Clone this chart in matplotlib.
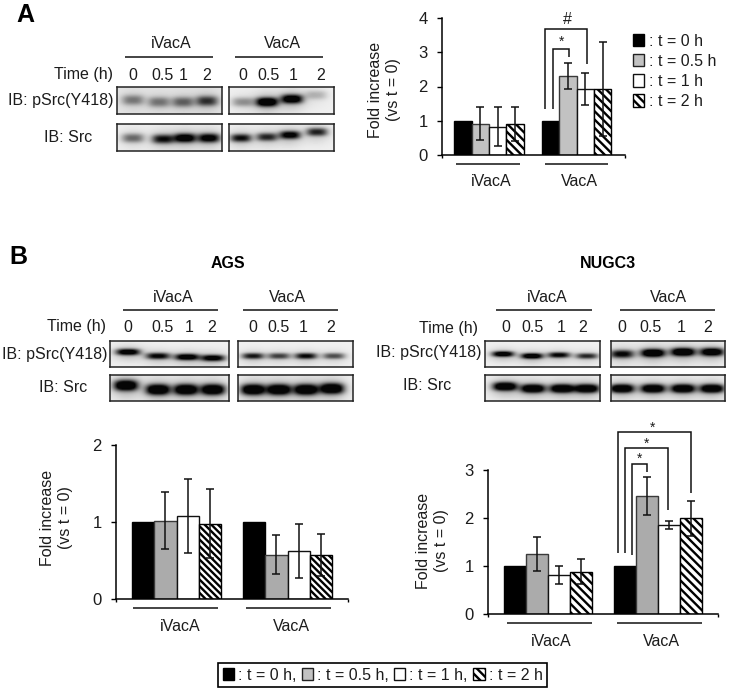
import numpy as np
import matplotlib
matplotlib.use("Agg")
import matplotlib.pyplot as plt
from matplotlib.patches import Patch

plt.rcParams['font.family'] = ['Liberation Sans', 'DejaVu Sans']
plt.rcParams['hatch.linewidth'] = 1.7
W, H = 740, 690
FS = 11.5
TXT = '#1c1c1c'

# ---------- data ----------
groups = ['iVacA', 'VacA']
times = [': t = 0 h', ': t = 0.5 h', ': t = 1 h', ': t = 2 h']
time_ticks_a = ['0', '0.5', '1', '2']

a_mean = [[1, 0.90, 0.82, 0.90], [1, 2.32, 1.92, 1.93]]
a_lo = [[1, 0.43, 0.26, 0.40], [1, 1.93, 1.45, 0.55]]
a_hi = [[1, 1.40, 1.40, 1.41], [1, 2.70, 2.40, 3.30]]

ags_mean = [[1, 1.02, 1.08, 0.98], [1, 0.58, 0.62, 0.575]]
ags_lo = [[1, 0.655, 0.605, 0.53], [1, 0.33, 0.276, 0.307]]
ags_hi = [[1, 1.39, 1.555, 1.425], [1, 0.834, 0.976, 0.84]]

nu_mean = [[1, 1.26, 0.81, 0.887], [1, 2.46, 1.857, 2.0]]
nu_lo = [[1, 0.90, 0.62, 0.62], [1, 2.07, 1.77, 1.635]]
nu_hi = [[1, 1.615, 1.01, 1.14], [1, 2.85, 1.95, 2.36]]

# band x, band y (image pixels), darkness
a_p_i = ([133, 159, 183, 207], [100, 102, 102, 101], [.33, .34, .40, .55])
a_p_v = ([243, 267, 292, 316], [102, 102, 99, 95], [.28, .95, .88, .18])
a_s_i = ([133, 163, 185, 209], [138, 139, 138, 138], [.40, .68, .85, .80])
a_s_v = ([241, 267, 290, 317], [138, 137, 135, 132], [.68, .60, .78, .62])

g_p_i = ([128, 158, 187, 213], [352, 356, 357, 358], [.85, .72, .85, .80])
g_p_v = ([253, 279, 306, 334], [356, 356, 356, 356], [.65, .52, .70, .48])
g_s_i = ([126, 158, 186, 213], [386, 390, 390, 390], [1.0, 1.0, 1.0, 1.0])
g_s_v = ([253, 279, 306, 332], [390, 390, 390, 389], [1.0, 1.0, 1.0, 1.0])

n_p_i = ([503, 532, 559, 587], [354, 356, 355, 356], [.85, .88, .72, .60])
n_p_v = ([622, 653, 683, 712], [354, 353, 352, 352], [.72, 1.0, 1.0, .92])
n_s_i = ([505, 533, 562, 587], [387, 389, 389, 389], [1.0, 1.0, 1.0, 1.0])
n_s_v = ([622, 653, 683, 712], [389, 389, 389, 389], [1.0, 1.0, 1.0, 1.0])

fig = plt.figure(figsize=(W / 100, H / 100), dpi=100, facecolor='white')


def rect(x0, y0, x1, y1):
    return [x0 / W, 1 - y1 / H, (x1 - x0) / W, (y1 - y0) / H]


ov = fig.add_axes([0, 0, 1, 1], zorder=5)
ov.set_xlim(0, W)
ov.set_ylim(H, 0)
ov.axis('off')


def T(x, y, s, ha='center', **kw):
    kw.setdefault('fontsize', FS)
    kw.setdefault('color', TXT)
    ov.text(x, y, s, ha=ha, va='center', **kw)


def L(xs, ys, lw=1.1, color='#111111'):
    ov.plot(xs, ys, color=color, lw=lw, solid_capstyle='butt', solid_joinstyle='miter')


def blot(box, band, bw, bh, bg=.94):
    x0, y0, x1, y1 = box
    n, m = x1 - x0, y1 - y0
    xx, yy = np.meshgrid(np.arange(n) + x0 + .5, np.arange(m) + y0 + .5)
    dark = np.zeros_like(xx, dtype=float)
    for bx, by, d in zip(*band):
        core = np.exp(-np.abs((xx - bx) / bw) ** 3 - np.abs((yy - by) / bh) ** 2.4)
        haze = np.exp(-((xx - bx) / (bw * 1.25)) ** 2 - ((yy - by - 1) / (bh * 2.4)) ** 2)
        dark += d * 1.1 * core + d * .24 * haze
    img = np.clip(bg - dark, 0.02, 1)
    ax = fig.add_axes(rect(x0, y0, x1, y1), zorder=2)
    ax.imshow(img, cmap='gray', vmin=0, vmax=1, aspect='auto', interpolation='bilinear')
    ax.set_xticks([])
    ax.set_yticks([])
    for s in ax.spines.values():
        s.set_linewidth(1.1)
        s.set_color('#222222')


def chart(rc, xlim, ymax, means, los, his, sep, grey, hatch):
    ax = fig.add_axes(rect(*rc), zorder=3)
    styles = [dict(facecolor='black', edgecolor='black'),
              dict(facecolor=grey, edgecolor='#3a3a3a'),
              dict(facecolor='white', edgecolor='#111111'),
              dict(facecolor='white', edgecolor='black', hatch=hatch)]
    for g in range(2):
        for i in range(4):
            x = g * sep + i
            m, lo, hi = means[g][i], los[g][i], his[g][i]
            ax.bar(x, m, width=1.0, linewidth=1.0, zorder=2, **styles[i])
            if i > 0:
                ax.errorbar(x, m, yerr=[[m - lo], [hi - m]], color='#111111',
                            elinewidth=1.1, capsize=3, capthick=1.1, zorder=3)
    ax.set_xlim(*xlim)
    ax.set_ylim(0, ymax)
    ax.set_yticks(np.arange(0, ymax + 1))
    ax.set_xticks([1.65, sep + 1.65])
    ax.set_xticklabels(groups)
    ax.set_xticks(list(xlim), minor=True)
    ax.tick_params(axis='x', which='major', length=0, pad=14, labelsize=FS, labelcolor=TXT)
    ax.tick_params(axis='x', which='minor', length=2.5, width=1.0)
    ax.tick_params(axis='y', length=3.6, width=1.0, labelsize=FS + .5, labelcolor=TXT, pad=6.5)
    for s in ('top', 'right'):
        ax.spines[s].set_visible(False)
    for s in ('left', 'bottom'):
        ax.spines[s].set_linewidth(1.1)
    ax.set_facecolor('none')
    ax.set_ylabel('Fold increase\n(vs t = 0)', fontsize=FS, color=TXT, linespacing=1.3, va='center')
    return ax


# ---------- panel A ----------
T(25, 15, 'A', fontsize=18, fontweight='bold', color='black')
T(171, 43, 'iVacA')
T(282, 43, 'VacA')
L([125, 213], [57, 57])
L([235, 323], [57, 57])
T(113, 75, 'Time (h)', ha='right')
for x, s in zip([133, 163, 183, 207, 243, 268, 293, 321], time_ticks_a * 2):
    T(x, 75, s)
T(114, 101, 'IB: pSrc(Y418)', ha='right')
T(68, 137, 'IB: Src')
blot((117, 87, 222, 114), a_p_i, 11, 5, bg=.90)
blot((229, 87, 334, 114), a_p_v, 11, 4.5)
blot((117, 124, 222, 151), a_s_i, 11, 4.5)
blot((229, 124, 334, 151), a_s_v, 10.5, 4)

ax_a = chart((441.7, 18, 625, 155), (-1.23, 9.36), 4, a_mean, a_lo, a_hi, 5.07, '#c2c2c2', '\\\\\\\\')
ax_a.yaxis.set_label_coords(384.5, 90, transform=ov.transData)
L([456, 520], [163.7, 163.7])
L([545, 608], [163.7, 163.7])
L([545, 545, 587, 587], [109, 29, 29, 64])
L([553, 553, 569, 569], [109, 49, 49, 57])
T(562, 42, '*', fontsize=10)
T(567, 19, '#', fontsize=FS)
hs = [Patch(facecolor='black', edgecolor='black'),
      Patch(facecolor='#c2c2c2', edgecolor='#222222'),
      Patch(facecolor='white', edgecolor='#111111'),
      Patch(facecolor='white', edgecolor='black', hatch='\\\\\\\\')]
fig.legend(hs, times, loc='upper left', bbox_to_anchor=(633 / W, 1 - 33.5 / H), frameon=False,
           fontsize=FS, handlelength=.7, handleheight=.85, handletextpad=.3, labelspacing=.32,
           borderpad=0, borderaxespad=0, labelcolor=TXT)

# ---------- panel B, AGS ----------
T(18, 257, 'B', fontsize=18, fontweight='bold', color='black')
T(228, 263, 'AGS', fontweight='bold', color='black')
T(173, 297, 'iVacA')
T(287, 297, 'VacA')
L([123, 218], [310, 310])
L([243, 338], [310, 310])
T(106, 327, 'Time (h)', ha='right')
for x, s in zip([128, 163, 189, 212, 253, 278, 303, 331], time_ticks_a * 2):
    T(x, 327, s)
T(108, 354, 'IB: pSrc(Y418)', ha='right')
T(63, 387, 'IB: Src')
blot((110, 341, 229, 367), g_p_i, 12, 3.2)
blot((238, 341, 353, 367), g_p_v, 11, 3)
blot((110, 375, 229, 401), g_s_i, 12, 5)
blot((238, 375, 353, 401), g_s_v, 12, 5)

ax_g = chart((115.7, 445, 348, 599.3), (-1.24, 9.22), 2, ags_mean, ags_lo, ags_hi, 5, '#ababab', '\\\\\\\\\\')
ax_g.yaxis.set_label_coords(56.5, 517.5, transform=ov.transData)
L([133, 218], [607.7, 607.7])
L([246, 331], [607.7, 607.7])

# ---------- panel B, NUGC3 ----------
T(608, 263, 'NUGC3', fontweight='bold', color='black')
T(547, 298, 'iVacA')
T(668, 298, 'VacA')
L([496, 592], [310, 310])
L([620, 715], [310, 310])
T(478, 328, 'Time (h)', ha='right')
for x, s in zip([506, 532, 561, 583, 622, 651, 681, 708], time_ticks_a * 2):
    T(x, 328, s)
T(481, 353, 'IB: pSrc(Y418)', ha='right')
T(427, 385, 'IB: Src')
blot((485, 341, 600, 367), n_p_i, 11, 2.8)
blot((611, 341, 725, 367), n_p_v, 12, 4)
blot((485, 375, 600, 401), n_s_i, 12, 4)
blot((611, 375, 725, 401), n_s_v, 12, 4)

ax_n = chart((487.7, 470, 718, 614.3), (-1.235, 9.19), 3, nu_mean, nu_lo, nu_hi, 4.98, '#ababab', '\\\\\\\\')
ax_n.yaxis.set_label_coords(432.5, 541, transform=ov.transData)
L([507, 592], [622.7, 622.7])
L([617, 702], [622.7, 622.7])
L([618, 618, 691, 691], [553, 432, 432, 493])
L([625, 625, 668, 668], [553, 448, 448, 510])
L([632, 632, 647, 647], [555, 464, 464, 472])
T(653, 428, '*', fontsize=10)
T(647, 444, '*', fontsize=10)
T(640, 459, '*', fontsize=10)

# ---------- bottom legend ----------
labels = [times[0] + ',', times[1] + ',', times[2] + ',', times[3]]
leg = fig.legend(hs, labels, loc='center', bbox_to_anchor=(382.5 / W, 1 - 675 / H), ncol=4, fontsize=FS,
                 handlelength=.7, handleheight=.85, handletextpad=.25, columnspacing=.35,
                 borderpad=.3, fancybox=False, edgecolor='black', framealpha=1, labelcolor=TXT)
leg.get_frame().set_linewidth(1.2)

fig.savefig('out.png', dpi=100, facecolor='white')
